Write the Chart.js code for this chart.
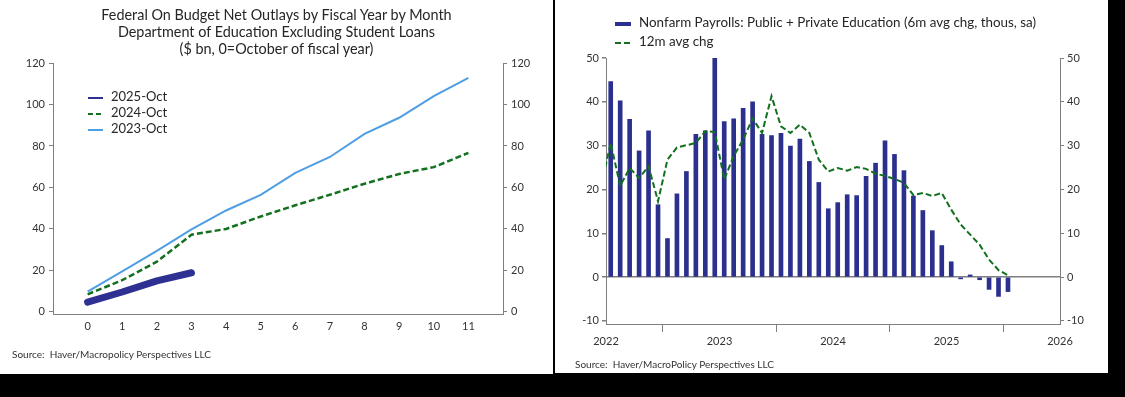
<!DOCTYPE html>
<html lang="en">
<head>
  <meta charset="UTF-8" />
  <title>Education outlays and payrolls</title>
  <style>
    body {
      margin: 0;
      width: 1125px;
      height: 397px;
      overflow: hidden;
      background: #000;
      font-family: Lato, sans-serif;
      color: #262626;
    }
    .panel {
      position: absolute;
      top: 0;
      background: #fff;
    }
    .panel canvas {
      position: absolute;
      left: 0;
      top: 0;
    }
    .title {
      position: absolute;
      left: 0;
      width: 553px;
      top: 6px;
      text-align: center;
      font-size: 14.4px;
      line-height: 17px;
    }
    .source {
      position: absolute;
      font-size: 10px;
      color: #333;
    }
    .legend {
      position: absolute;
      font-size: 13px;
      line-height: 16px;
    }
    .legend div {
      height: 16px;
      white-space: nowrap;
    }
    .legend svg {
      vertical-align: middle;
      margin-right: 8px;
    }
  </style>
  <script src="https://cdn.jsdelivr.net/npm/chart.js"></script>
</head>
<body>
  <div class="panel" style="left:0;width:553px;height:374px">
    <canvas id="outlaysChart" width="553" height="374"></canvas>
    <div class="title">Federal On Budget Net Outlays by Fiscal Year by Month<br>Department of Education Excluding Student Loans<br>($ bn, 0=October of fiscal year)</div>
    <div class="legend" style="left:88px;top:88px">
      <div><svg width="15" height="6"><line x1="0" y1="3" x2="15" y2="3" stroke="#2e3192" stroke-width="2"/></svg>2025-Oct</div>
      <div><svg width="15" height="6"><line x1="0" y1="3" x2="15" y2="3" stroke="#12701e" stroke-width="2" stroke-dasharray="5,3"/></svg>2024-Oct</div>
      <div><svg width="15" height="6"><line x1="0" y1="3" x2="15" y2="3" stroke="#4f9ee3" stroke-width="2"/></svg>2023-Oct</div>
    </div>
    <div class="source" style="left:12px;top:348px">Source:&nbsp; Haver/Macropolicy Perspectives LLC</div>
  </div>

  <div class="panel" style="left:555px;width:553px;height:373px">
    <canvas id="payrollChart" width="553" height="373"></canvas>
    <div class="legend" style="left:60px;top:14px;font-size:13.4px">
      <div><svg width="16" height="6"><rect x="0" y="1" width="16" height="4" fill="#2b2f8e"/></svg>Nonfarm Payrolls: Public + Private Education (6m avg chg, thous, sa)</div>
      <div style="margin-top:3px"><svg width="16" height="6"><line x1="0" y1="3" x2="16" y2="3" stroke="#12701e" stroke-width="2" stroke-dasharray="6,3"/></svg>12m avg chg</div>
    </div>
    <div class="source" style="left:20px;top:358px">Source:&nbsp; Haver/MacroPolicy Perspectives LLC</div>
  </div>

  <script>
    // ---- left chart: cumulative outlays by fiscal month ----
    const fiscalMonths = [0, 1, 2, 3, 4, 5, 6, 7, 8, 9, 10, 11];
    const outlays2025 = [4.7, 9.6, 15.0, 18.9];
    const outlays2024 = [8.5, 15.3, 24.2, 37.2, 40.0, 46.0, 51.4, 56.5, 61.8, 66.5, 69.8, 76.7];
    const outlays2023 = [9.8, 19.6, 29.4, 39.8, 48.9, 56.4, 67.0, 74.7, 85.8, 93.6, 104.0, 112.8];
    const outlayTicks = [0, 20, 40, 60, 80, 100, 120];

    // ---- right chart: monthly, month 0 = Jul 2022 ----
    const payroll6m = [44.6, 40.2, 36.0, 28.8, 33.4, 16.5, 8.8, 19.0, 24.1, 32.6, 33.4, 50.0,
      35.5, 36.1, 38.5, 40.0, 32.6, 32.3, 32.8, 29.9, 31.5, 26.4, 21.6, 15.6,
      17.0, 18.8, 18.6, 23.0, 26.0, 31.1, 28.0, 24.3, 18.5, 15.2, 10.6, 7.2,
      3.5, -0.4, 0.5, -0.6, -2.8, -4.4, -3.3];
    // first value is Jun 2022 (clipped at the axis edge)
    const payroll12m = [21.0, 30.6, 20.8, 24.9, 22.6, 25.3, 17.3, 26.8, 29.6, 30.1, 30.6, 33.3, 33.1,
      22.3, 27.6, 31.4, 36.2, 32.9, 41.3, 34.4, 32.9, 34.8, 32.9, 26.8, 24.1,
      24.9, 24.3, 25.1, 24.7, 23.6, 23.1, 22.4, 21.5, 18.7, 19.2, 18.5, 19.2,
      15.4, 12.0, 9.7, 7.4, 4.0, 1.6, 0.4];
    const yearLabels = ['2022', '2023', '2024', '2025', '2026'];
    const payrollTicks = [-10, 0, 10, 20, 30, 40, 50];

    const axisGray = '#7f7f7f';
    const tickFont = { family: 'Lato', size: 11 };
    const tickColor = '#333';

    function fixedTicks(values) {
      return function (scale) {
        scale.ticks = values.map(v => ({ value: v }));
      };
    }

    function sideAxis(position, width, min, max, values, pad) {
      return {
        type: 'linear',
        position: position,
        min: min,
        max: max,
        afterBuildTicks: fixedTicks(values),
        afterFit: scale => { scale.width = width; },
        grid: { drawOnChartArea: false, tickLength: 4, color: axisGray },
        border: { color: axisGray },
        ticks: { font: tickFont, color: tickColor, padding: pad }
      };
    }

    new Chart(document.getElementById('outlaysChart'), {
      type: 'line',
      data: {
        datasets: [
          {
            label: '2023-Oct',
            data: outlays2023.map((v, i) => ({ x: fiscalMonths[i], y: v })),
            borderColor: '#4f9ee3',
            borderWidth: 2,
            pointRadius: 0
          },
          {
            label: '2024-Oct',
            data: outlays2024.map((v, i) => ({ x: fiscalMonths[i], y: v })),
            borderColor: '#12701e',
            borderWidth: 2.5,
            borderDash: [6, 3],
            pointRadius: 0
          },
          {
            label: '2025-Oct',
            data: outlays2025.map((v, i) => ({ x: fiscalMonths[i], y: v })),
            borderColor: '#2e3192',
            borderWidth: 7,
            borderCapStyle: 'round',
            borderJoinStyle: 'round',
            pointRadius: 0
          }
        ]
      },
      options: {
        responsive: false,
        animation: false,
        layout: { padding: { top: 63, bottom: 35, left: 0, right: 0 } },
        plugins: { legend: { display: false }, tooltip: { enabled: false } },
        scales: {
          x: {
            type: 'linear',
            min: -1,
            max: 12,
            afterBuildTicks: fixedTicks(fiscalMonths),
            afterFit: scale => { scale.height = 25; },
            grid: { display: false, drawTicks: false },
            border: { color: axisGray },
            ticks: { font: tickFont, color: tickColor, padding: 6 }
          },
          y: sideAxis('left', 53, -1, 120, outlayTicks, 4),
          y2: sideAxis('right', 50, -1, 120, outlayTicks, 4)
        }
      }
    });

    const payrollY = sideAxis('left', 51, -10.7, 50, payrollTicks, 3);
    // zero line across the plot
    payrollY.grid = {
      drawOnChartArea: true,
      tickLength: 4,
      color: ctx => (ctx.tick && ctx.tick.value === 0) ? axisGray : 'rgba(0,0,0,0)',
      tickColor: axisGray,
      lineWidth: 1.5
    };

    new Chart(document.getElementById('payrollChart'), {
      type: 'bar',
      data: {
        datasets: [
          {
            type: 'line',
            label: '12m avg chg',
            data: payroll12m.map((v, i) => ({ x: i - 0.5, y: v })),
            borderColor: '#12701e',
            borderWidth: 2,
            borderDash: [6, 3],
            pointRadius: 0,
            clip: 0,
            order: 0
          },
          {
            label: 'Nonfarm Payrolls: Public + Private Education (6m avg chg, thous, sa)',
            data: payroll6m.map((v, i) => ({ x: i + 0.5, y: v })),
            backgroundColor: '#2b2f8e',
            barThickness: 4,
            order: 1
          }
        ]
      },
      options: {
        responsive: false,
        animation: false,
        layout: { padding: { top: 58, bottom: 24, left: 0, right: 0 } },
        plugins: { legend: { display: false }, tooltip: { enabled: false } },
        scales: {
          x: {
            type: 'linear',
            offset: false,
            min: 0,
            max: 48,
            afterBuildTicks: fixedTicks([0, 6, 12, 18, 24, 30, 36, 42, 48]),
            afterFit: scale => { scale.height = 25; },
            grid: {
              offset: false,
              drawOnChartArea: false,
              tickLength: 8,
              tickColor: ctx => (ctx.tick && ctx.tick.value % 12 === 6) ? axisGray : 'rgba(0,0,0,0)'
            },
            border: { color: axisGray },
            ticks: {
              font: tickFont,
              color: tickColor,
              padding: 3,
              maxRotation: 0,
              autoSkip: false,
              callback: v => (v % 12 === 0) ? yearLabels[v / 12] : ''
            }
          },
          y: payrollY,
          y2: sideAxis('right', 48, -10.7, 50, payrollTicks, 3)
        }
      }
    });
  </script>
</body>
</html>
